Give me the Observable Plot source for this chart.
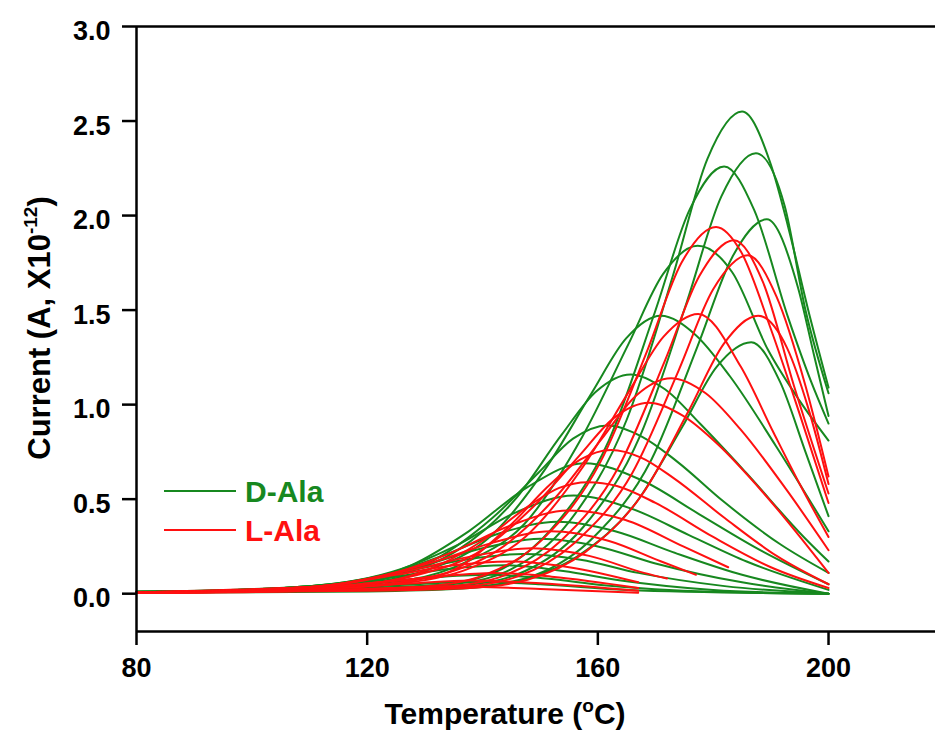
<!DOCTYPE html>
<html>
<head>
<meta charset="utf-8">
<script src="https://cdn.jsdelivr.net/npm/d3@7"></script>
<script src="https://cdn.jsdelivr.net/npm/@observablehq/plot@0.6"></script>
<style>
  html, body { margin: 0; padding: 0; background: #ffffff; }
  #chart { width: 935px; height: 734px; }
</style>
</head>
<body>
<div id="chart"></div>
<script>
// ---------- data (Temperature °C, Current A ×10^-12) ----------
const xTicks = [80, 120, 160, 200];
const yTicks = [0, 0.5, 1.0, 1.5, 2.0, 2.5, 3.0];
const seriesNames = ["D-Ala", "L-Ala"];

// D-Ala curves
const D01 = [[80,0.012],[120,0.03],[135,0.051],[145,0.13],[155,0.38],[165,0.92],[173,1.68],[179,2.3],[185,2.55],[190,2.27],[193,1.94],[196.4,1.51],[200,1.09]];
const D02 = [[80,0.01],[120,0.025],[137.4,0.047],[147.4,0.12],[157.4,0.35],[167.4,0.84],[175.4,1.54],[181.4,2.1],[187.4,2.33],[192.4,2.05],[196,1.5],[200,1.06]];
const D03 = [[80,0.01],[120,0.03],[131.9,0.045],[141.9,0.11],[151.9,0.34],[161.9,0.81],[169.9,1.49],[175.9,2.03],[181.9,2.26],[187.1,2.03],[193,1.46],[197,1.12],[200,0.9]];
const D04 = [[80,0.008],[120,0.02],[139.3,0.04],[149.3,0.1],[159.3,0.3],[169.3,0.71],[177.3,1.31],[183.3,1.78],[189.3,1.98],[194.7,1.62],[197.5,1.26],[200,0.94]];
const D05 = [[80,0.01],[110,0.035],[127.3,0.074],[137.3,0.17],[147.3,0.37],[157.3,0.83],[165.3,1.32],[171.3,1.69],[177.3,1.84],[183.3,1.7],[189.5,1.29],[195,1.02],[200,0.81]];
const D06 = [[80,0.005],[120,0.012],[136.6,0.027],[146.6,0.07],[156.6,0.2],[166.6,0.48],[174.6,0.88],[180.6,1.2],[186.6,1.33],[191.6,1.12],[196,0.75],[200,0.41]];
const D07 = [[80,0.008],[110,0.03],[120.9,0.06],[130.9,0.13],[140.9,0.29],[150.9,0.66],[158.9,1.06],[164.9,1.35],[170.9,1.47],[176.9,1.37],[182.9,1.15],[190.9,0.78],[200,0.33]];
const D08 = [[80,0.007],[110,0.03],[125.7,0.1],[135.7,0.23],[145.7,0.5],[153.7,0.84],[159.7,1.07],[165.7,1.16],[171.7,1.08],[177.7,0.9],[185.7,0.64],[195.7,0.3],[200,0.17]];
const D09 = [[80,0.007],[110,0.03],[121.7,0.07],[131.7,0.18],[141.7,0.4],[149.7,0.64],[155.7,0.82],[161.7,0.89],[167.7,0.83],[173.7,0.7],[181.7,0.49],[191.7,0.26],[200,0.11]];
const D10 = [[80,0.007],[110,0.04],[117.6,0.06],[127.6,0.15],[137.6,0.33],[147.6,0.56],[157.6,0.69],[167.6,0.6],[177.6,0.42],[187.6,0.24],[200,0.05]];
const D11 = [[80,0.006],[110,0.04],[125.8,0.13],[135.8,0.26],[145.8,0.43],[155.8,0.52],[165.8,0.45],[175.8,0.31],[185.8,0.17],[200,0.02]];
const D12 = [[80,0.006],[110,0.04],[123,0.1],[133,0.2],[143,0.32],[153,0.38],[163,0.33],[173,0.22],[185,0.1],[200,0]];
const D13 = [[80,0.006],[110,0.04],[120,0.075],[130,0.15],[140,0.24],[150,0.29],[160,0.25],[170,0.16],[185,0.06],[200,0]];
const D14 = [[80,0.005],[110,0.035],[127,0.12],[137,0.18],[147,0.21],[157,0.18],[167,0.11],[182,0.04],[200,0]];
const D15 = [[80,0.005],[110,0.03],[124,0.085],[134,0.13],[144,0.15],[154,0.12],[164,0.07],[180,0.02],[200,0]];
const D16 = [[80,0.005],[110,0.025],[121,0.055],[131,0.085],[141,0.1],[151,0.08],[161,0.045],[180,0.01],[200,0]];
const D17 = [[80,0.004],[110,0.02],[128,0.05],[138,0.062],[150,0.05],[165,0.02],[200,0]];

// L-Ala curves
const L01 = [[80,0.008],[120,0.025],[130.5,0.04],[140.5,0.1],[150.5,0.29],[160.5,0.7],[168.5,1.28],[174.5,1.75],[180.5,1.94],[184.8,1.81],[190,1.4],[195,0.95],[200,0.48]];
const L02 = [[80,0.008],[120,0.022],[133.6,0.037],[143.6,0.094],[153.6,0.28],[163.6,0.67],[171.6,1.23],[177.6,1.68],[183.6,1.87],[188.6,1.65],[194,1.1],[200,0.53]];
const L03 = [[80,0.007],[120,0.02],[136,0.036],[146,0.09],[156,0.27],[166,0.64],[174,1.18],[180,1.61],[186,1.79],[191,1.57],[196,1.1],[200,0.62]];
const L04 = [[80,0.006],[120,0.015],[137.8,0.03],[147.8,0.074],[157.8,0.22],[167.8,0.53],[175.8,0.97],[181.8,1.32],[187.8,1.47],[192.8,1.3],[196.5,0.98],[200,0.58]];
const L05 = [[80,0.007],[110,0.025],[127.4,0.06],[137.4,0.13],[147.4,0.3],[157.4,0.67],[165.4,1.07],[171.4,1.36],[177.4,1.48],[184.8,1.2],[190.5,0.85],[195,0.58],[200,0.3]];
const L06 = [[80,0.007],[110,0.03],[122.7,0.05],[132.7,0.1],[142.7,0.23],[152.7,0.51],[160.7,0.82],[166.7,1.05],[172.7,1.14],[178.7,1.06],[184.7,0.87],[192.7,0.55],[200,0.23]];
const L07 = [[80,0.007],[110,0.03],[118.8,0.045],[128.8,0.1],[138.8,0.21],[148.8,0.46],[156.8,0.73],[162.8,0.93],[168.8,1.01],[174.8,0.94],[180.8,0.79],[188.8,0.53],[200,0.11]];
const L08 = [[80,0.006],[110,0.03],[122,0.06],[132.8,0.1],[144.4,0.35],[151.8,0.58],[157,0.71],[162.3,0.76],[167.5,0.72],[173.2,0.61],[182,0.4],[191,0.2],[200,0.05]];
const L09 = [[80,0.006],[110,0.035],[120,0.05],[130,0.12],[140,0.28],[148.3,0.47],[153.3,0.56],[158.3,0.59],[163.3,0.57],[170,0.48],[180,0.3],[190,0.14],[200,0.03]];
const L10 = [[80,0.006],[110,0.035],[124.8,0.11],[134.8,0.22],[144.8,0.36],[154.8,0.44],[164.8,0.39],[174.8,0.25],[182.6,0.14]];
const L11 = [[80,0.005],[110,0.035],[121.8,0.09],[131.8,0.17],[141.8,0.27],[151.8,0.33],[161.8,0.28],[171,0.17],[177,0.1]];
const L12 = [[80,0.005],[110,0.035],[128.5,0.13],[138.5,0.2],[148.5,0.24],[158.5,0.2],[168,0.11],[172,0.08]];
const L13 = [[80,0.005],[110,0.03],[125,0.1],[135,0.15],[145,0.17],[155,0.14],[167,0.06]];
const L14 = [[80,0.004],[110,0.025],[122,0.06],[132,0.09],[142,0.11],[152,0.09],[167,0.03]];
const L15 = [[80,0.004],[110,0.02],[128,0.055],[138,0.07],[150,0.055],[167,0.015]];
const L16 = [[80,0.003],[110,0.015],[124,0.03],[134,0.04],[150,0.025],[167,0.005]];

const dAlaCurves = [D01,D02,D03,D04,D05,D06,D07,D08,D09,D10,D11,D12,D13,D14,D15,D16,D17];
const lAlaCurves = [L01,L02,L03,L04,L05,L06,L07,L08,L09,L10,L11,L12,L13,L14,L15,L16];

// ---------- build ----------
const GREEN = "#17881f";
const RED = "#ff1010";
const xDomain = [80, 218.55];
const yDomain = [-0.2, 3.0];
const FONT = "'Liberation Sans', Arial, Helvetica, sans-serif";

function rows(curves, name) {
  const out = [];
  curves.forEach((c, i) => c.forEach(([t, v]) => out.push({t, v, id: name + i})));
  return out;
}
const dRows = rows(dAlaCurves, "D");
const lRows = rows(lAlaCurves, "L");

const chart = Plot.plot({
  width: 935,
  height: 734,
  marginLeft: 136,
  marginRight: 0,
  marginTop: 26,
  marginBottom: 103,
  style: {fontFamily: FONT, fontSize: "27px", fontWeight: "bold", color: "#000", background: "#fff", overflow: "visible"},
  x: {domain: xDomain, label: null},
  y: {domain: yDomain, label: null},
  marks: [
    Plot.line(dRows, {x: "t", y: "v", z: "id", stroke: GREEN, strokeWidth: 2, curve: "monotone-x"}),
    Plot.line(lRows, {x: "t", y: "v", z: "id", stroke: RED, strokeWidth: 2, curve: "monotone-x"}),
    Plot.ruleY([yDomain[1]], {stroke: "#000", strokeWidth: 2.5}),
    Plot.ruleY([yDomain[0]], {stroke: "#000", strokeWidth: 2.5}),
    Plot.ruleX([xDomain[0]], {stroke: "#000", strokeWidth: 2.5}),
    // y ticks (marks only) and y tick labels (slightly lowered, as in the source)
    Plot.axisY(yTicks, {tickSize: 14, strokeWidth: 2.5, tickFormat: () => "", label: null}),
    Plot.axisY(yTicks, {tickSize: 0, tickPadding: 26, tickFormat: d => d.toFixed(1), fontSize: 27, fontWeight: "bold", dy: 5, label: null}),
    Plot.axisX(xTicks, {tickSize: 14, tickPadding: 12, strokeWidth: 2.5, tickFormat: d => String(d), fontSize: 27, fontWeight: "bold", label: null})
  ]
});
document.getElementById("chart").appendChild(chart);

const svg = d3.select(chart);

// x axis title with superscript
const xt = svg.append("text")
  .attr("x", 505).attr("y", 724)
  .attr("text-anchor", "middle")
  .attr("font-family", FONT).attr("font-size", 30).attr("font-weight", "bold").attr("fill", "#000");
xt.append("tspan").text("Temperature (");
xt.append("tspan").attr("dy", -12).attr("font-size", 19).text("o");
xt.append("tspan").attr("dy", 12).text("C)");

// y axis title with superscript
const yt = svg.append("text")
  .attr("transform", "translate(50,328) rotate(-90)")
  .attr("text-anchor", "middle")
  .attr("font-family", FONT).attr("font-size", 31).attr("font-weight", "bold").attr("fill", "#000");
yt.append("tspan").text("Current (A, X10");
yt.append("tspan").attr("dy", -13).attr("font-size", 19).text("-12");
yt.append("tspan").attr("dy", 13).text(")");

// legend
const legend = [
  {name: seriesNames[0], color: GREEN, y: 491},
  {name: seriesNames[1], color: RED, y: 530}
];
legend.forEach(l => {
  svg.append("line").attr("x1", 164).attr("x2", 236).attr("y1", l.y).attr("y2", l.y)
    .attr("stroke", l.color).attr("stroke-width", 2);
  svg.append("text").attr("x", 245).attr("y", l.y + 11)
    .attr("text-anchor", "start")
    .attr("font-family", FONT).attr("font-size", 30).attr("font-weight", "bold")
    .attr("fill", l.color).text(l.name);
});
</script>
</body>
</html>
